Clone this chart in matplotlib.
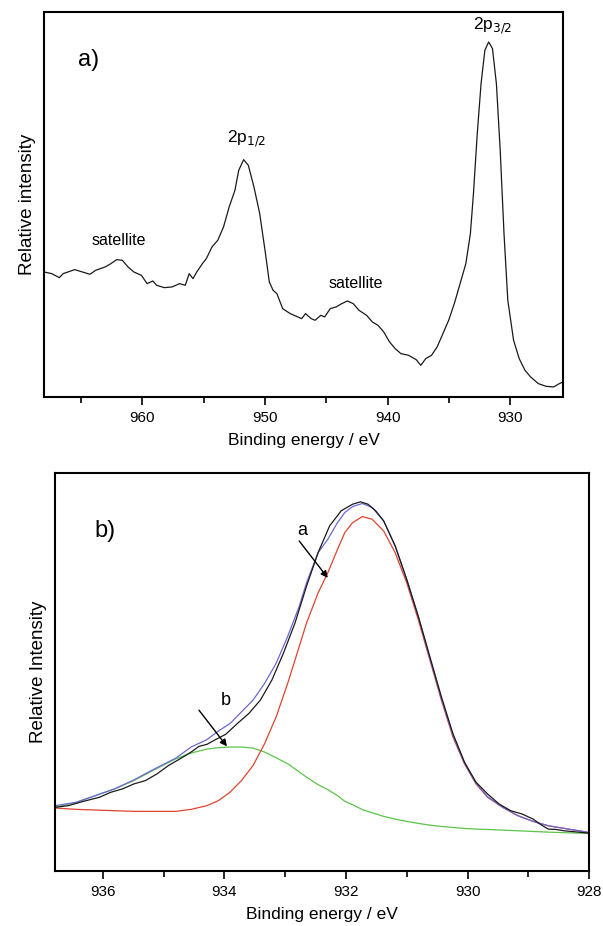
import matplotlib
matplotlib.use("Agg")
import matplotlib.pyplot as plt
from matplotlib.ticker import MultipleLocator, NullLocator

plt.rcParams['font.family'] = ['Liberation Sans', 'DejaVu Sans']

# ---------------- panel a) survey spectrum ----------------
be_a = [968.0, 967.37, 966.75, 966.44, 965.50, 964.88, 964.26, 963.79, 963.02, 962.55,
        962.08, 961.62, 961.15, 960.68, 960.06, 959.60, 959.13, 958.82, 958.20, 957.57,
        956.95, 956.49, 956.17, 955.86, 955.55, 955.09, 954.77, 954.31, 953.84, 953.37,
        952.91, 952.44, 952.13, 951.73, 951.35, 950.89, 950.42, 949.95, 949.64, 949.33,
        949.02, 948.55, 947.93, 947.31, 947.00, 946.69, 946.22, 945.91, 945.44, 945.13,
        944.67, 944.20, 943.73, 943.27, 942.80, 942.33, 941.71, 941.24, 940.78, 940.31,
        939.84, 939.38, 938.91, 938.29, 937.67, 937.29, 936.89, 936.42, 935.96, 935.49,
        935.02, 934.56, 934.09, 933.62, 933.25, 933.00, 932.69, 932.38, 932.07, 931.76,
        931.45, 931.13, 930.82, 930.51, 930.20, 929.73, 929.27, 928.80, 928.34, 927.71,
        927.09, 926.47, 926.00, 925.7]
int_a = [375, 370, 358, 370, 382, 375, 368, 380, 390, 400,
         412, 410, 390, 375, 365, 340, 348, 335, 328, 330,
         340, 335, 370, 355, 375, 400, 415, 450, 470, 510,
         570, 620, 680, 712, 695, 630, 550, 430, 345, 320,
         310, 265, 250, 240, 235, 250, 235, 230, 245, 240,
         265, 270, 280, 288, 280, 260, 245, 225, 215, 195,
         165, 145, 130, 125, 112, 95, 115, 125, 150, 190,
         230, 280, 340, 400, 490, 610, 790, 940, 1040, 1065,
         1045, 940, 740, 490, 290, 170, 115, 80, 60, 40,
         32, 30, 40, 45]

# ---------------- panel b) Cu 2p3/2 fit ----------------
be_black = [936.79, 936.57, 936.32, 936.06, 935.87, 935.68, 935.49, 935.30, 935.11, 934.92,
            934.73, 934.55, 934.42, 934.29, 934.17, 933.98, 933.79, 933.60, 933.41, 933.22,
            933.03, 932.84, 932.65, 932.46, 932.27, 932.08, 931.89, 931.76, 931.64, 931.51,
            931.38, 931.19, 931.00, 930.81, 930.62, 930.43, 930.24, 930.05, 929.86, 929.67,
            929.48, 929.29, 929.10, 928.92, 928.79, 928.67, 928.54, 928.41, 928.0]
int_black = [190, 195, 208, 220, 235, 245, 260, 270, 290, 315,
             335, 355, 372, 378, 390, 408, 440, 470, 510, 570,
             650, 740, 850, 950, 1030, 1075, 1095, 1102, 1095, 1075,
             1045, 970, 870, 760, 640, 520, 410, 325, 265, 230,
             200, 180, 170, 155, 138, 125, 124, 120, 113]

be_fit = [936.79, 936.44, 935.81, 935.49, 935.18, 934.80, 934.55, 934.29, 934.10, 933.91,
          933.72, 933.53, 933.34, 933.15, 932.96, 932.77, 932.65, 932.46, 932.30, 932.14,
          932.02, 931.89, 931.73, 931.57, 931.38, 931.19, 931.00, 930.81, 930.62, 930.43,
          930.24, 930.05, 929.86, 929.67, 929.42, 929.17, 928.92, 928.67, 928.0]
int_red = [188, 184, 180, 178, 178, 178, 184, 195, 210, 235,
           270, 315, 380, 460, 560, 670, 740, 830, 890, 960,
           1010, 1040, 1058, 1050, 1015, 950, 860, 750, 630, 510,
           400, 320, 260, 220, 190, 165, 148, 135, 115]
int_green = [190, 205, 245, 270, 300, 335, 352, 364, 368, 370,
             370, 367, 355, 338, 320, 296, 280, 258, 243, 225,
             208, 198, 183, 174, 163, 155, 148, 142, 137, 133,
             130, 127, 125, 124, 122, 120, 118, 116, 112]
int_blue = [195, 205, 245, 272, 302, 337, 370, 392, 418, 440,
            475, 510, 560, 620, 700, 790, 860, 950, 990, 1040,
            1070, 1088, 1097, 1085, 1045, 970, 870, 760, 635, 515,
            405, 322, 262, 222, 190, 165, 148, 135, 115]

arrow_a = dict(text=(932.72, 1015), tail=(932.77, 985), tip=(932.30, 875))
arrow_b = dict(text=(933.98, 510), tail=(934.42, 480), tip=(933.96, 372))

fig = plt.figure(figsize=(6.03, 9.26), dpi=100)

def style_axes(ax, xlabel, ylabel):
    ax.yaxis.set_major_locator(NullLocator())
    ax.tick_params(axis='x', which='major', direction='out', length=6, width=1.2,
                   labelsize=11, pad=4)
    ax.tick_params(axis='x', which='minor', direction='out', length=4, width=1.2)
    ax.set_xlabel(xlabel, fontsize=12.5, labelpad=6)
    ax.set_ylabel(ylabel, fontsize=13.5, labelpad=6)
    for s in ax.spines.values():
        s.set_linewidth(1.5)

# ---- top axes ----
ax1 = fig.add_axes([0.073, 0.5713, 0.8607, 0.4158])
ax1.plot(be_a, int_a, color='#1a1a1a', lw=0.9)
ax1.set_xlim(968.0, 925.7)
ax1.set_ylim(0, 1155)
ax1.xaxis.set_major_locator(MultipleLocator(10))
ax1.xaxis.set_minor_locator(MultipleLocator(5))
style_axes(ax1, 'Binding energy / eV', 'Relative intensity')
ax1.text(964.4, 1010, 'a)', fontsize=17, ha='center', va='center')
ax1.text(931.45, 1115, r'2p$_{3/2}$', fontsize=12.5, ha='center', va='center')
ax1.text(951.5, 775, r'2p$_{1/2}$', fontsize=12.5, ha='center', va='center')
ax1.text(961.9, 470, 'satellite', fontsize=11.5, ha='center', va='center')
ax1.text(942.6, 340, 'satellite', fontsize=11.5, ha='center', va='center')

# ---- bottom axes ----
ax2 = fig.add_axes([0.0912, 0.0594, 0.8856, 0.4298])
ax2.plot(be_fit, int_green, color='#5cc44a', lw=0.9)
ax2.plot(be_fit, int_red, color='#e0442e', lw=0.9)
ax2.plot(be_fit, int_blue, color='#6a68d4', lw=0.9)
ax2.plot(be_black, int_black, color='#1a1a1a', lw=0.9)
ax2.set_xlim(936.79, 928.0)
ax2.set_ylim(0, 1188)
ax2.xaxis.set_major_locator(MultipleLocator(2))
ax2.xaxis.set_minor_locator(MultipleLocator(1))
style_axes(ax2, 'Binding energy / eV', 'Relative Intensity')
ax2.text(935.97, 1015, 'b)', fontsize=17, ha='center', va='center')
for d, lab in ((arrow_a, 'a'), (arrow_b, 'b')):
    ax2.text(d['text'][0], d['text'][1], lab, fontsize=13, ha='center', va='center')
    ax2.annotate('', xy=d['tip'], xytext=d['tail'],
                 arrowprops=dict(arrowstyle='-|>', color='black', lw=1.0,
                                 mutation_scale=10, shrinkA=0, shrinkB=0))

fig.savefig('out.png', dpi=100)
